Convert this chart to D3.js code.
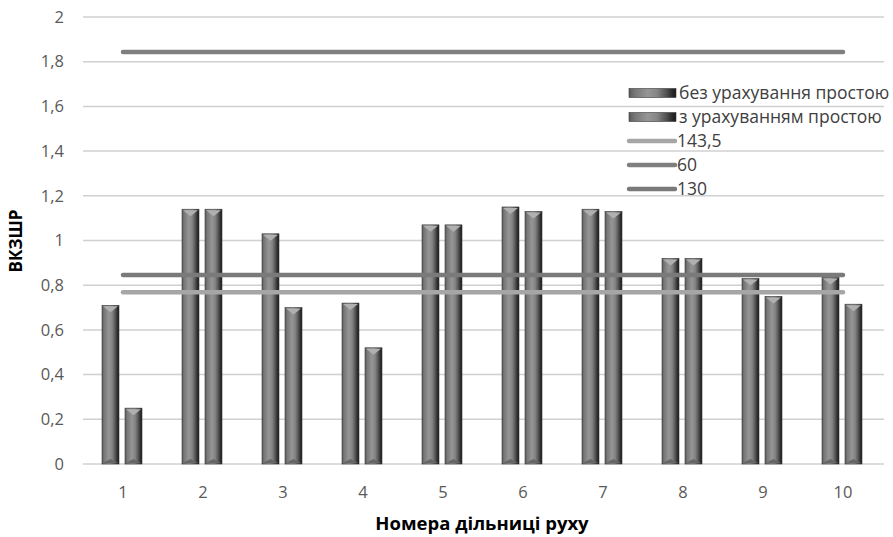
<!DOCTYPE html>
<html><head><meta charset="utf-8">
<script src="https://cdn.jsdelivr.net/npm/d3@7"></script>
<style>body{margin:0;background:#fff}svg{display:block}</style>
</head><body>
<svg id="c" width="893" height="537"></svg>
<script>
const categories = ["1","2","3","4","5","6","7","8","9","10"];
const seriesNames = ["без урахування простою","з урахуванням простою"];
const withoutIdle = [0.71,1.14,1.03,0.72,1.07,1.15,1.14,0.92,0.83,0.835];
const withIdle    = [0.25,1.14,0.70,0.52,1.07,1.13,1.13,0.92,0.75,0.715];
const lineNames = ["143,5","60","130"];
const lineValues = [0.768,1.843,0.846];
const lineColors = ["#a6a6a6","#7f7f7f","#7a7a7a"];
const yTicks = [0,0.2,0.4,0.6,0.8,1,1.2,1.4,1.6,1.8,2];

const svg = d3.select("#c");
const W=893,H=537;
const m={l:83,r:10,t:17,b:73};
const x = d3.scaleBand().domain(categories).range([m.l,W-m.r]).paddingInner(0).paddingOuter(0);
const y = d3.scaleLinear().domain([0,2]).range([H-m.b,m.t]);
const fmt = d=>String(d).replace(".",",");
const font = "'Open Sans', 'Noto Sans', sans-serif";

const defs = svg.append("defs");
const g = defs.append("linearGradient").attr("id","barg").attr("x1","0").attr("x2","1").attr("y1","0").attr("y2","0");
[[0,"#5a5a5a"],[0.12,"#767676"],[0.4,"#969696"],[0.6,"#848484"],[0.8,"#505050"],[0.92,"#2a2a2a"],[1,"#1a1a1a"]]
  .forEach(([o,c])=>g.append("stop").attr("offset",o).attr("stop-color",c));

// gridlines
svg.append("g").selectAll("line").data(yTicks).join("line")
  .attr("x1",m.l).attr("x2",W-m.r+1).attr("y1",d=>y(d)).attr("y2",d=>y(d))
  .attr("stroke","#d0d0d0").attr("stroke-width",1.5);

// y tick labels
svg.append("g").selectAll("text").data(yTicks).join("text")
  .attr("x",64).attr("y",d=>y(d)).attr("dy","0.35em").attr("text-anchor","end")
  .attr("font-family",font).attr("font-size",16.5).attr("fill","#595959").text(fmt);

// x tick labels
svg.append("g").selectAll("text").data(categories).join("text")
  .attr("x",d=>x(d)+x.bandwidth()/2).attr("y",492).attr("dy","0.35em").attr("text-anchor","middle")
  .attr("font-family",font).attr("font-size",16.5).attr("fill","#595959").text(d=>d);

// bars
const bw=17, gap=6;
const series=[withoutIdle,withIdle];
series.forEach((vals,si)=>{
  const gg=svg.append("g");
  const data=categories.map((c,i)=>({c,v:vals[i]}));
  const bx=d=>x(d.c)+x.bandwidth()/2-bw-gap/2+si*(bw+gap)-1;
  gg.selectAll("rect").data(data).join("rect")
    .attr("x",bx).attr("y",d=>y(d.v)).attr("width",bw).attr("height",d=>y(0)-y(d.v))
    .attr("fill","url(#barg)").attr("stroke","#3a3a3a").attr("stroke-width",0.6);
  gg.selectAll("path.top").data(data).join("path").attr("class","top")
    .attr("d",d=>{const X=bx(d),Y=y(d.v);return `M${X+1},${Y+1}L${X+bw-1},${Y+1}L${X+bw/2},${Y+7}Z`;})
    .attr("fill","#b0b0b0");
  gg.selectAll("path.bot").data(data).join("path").attr("class","bot")
    .attr("d",d=>{const X=bx(d),Y=y(0);return `M${X+1},${Y-1}L${X+bw-1},${Y-1}L${X+bw/2},${Y-5}Z`;})
    .attr("fill","#666");
});

// horizontal lines
const c0=x(categories[0])+x.bandwidth()/2, c1=x(categories[categories.length-1])+x.bandwidth()/2;
svg.append("g").selectAll("line").data(lineValues).join("line")
  .attr("x1",c0).attr("x2",c1).attr("y1",d=>y(d)).attr("y2",d=>y(d))
  .attr("stroke",(d,i)=>lineColors[i]).attr("stroke-width",4.5).attr("stroke-linecap","round");

// legend
const lg=svg.append("g");
const rows=[93,117,141,165,189];
seriesNames.forEach((n,i)=>{
  lg.append("rect").attr("x",629).attr("y",rows[i]-4.5).attr("width",47).attr("height",9)
    .attr("fill","url(#barg)").attr("stroke","#3a3a3a").attr("stroke-width",0.6);
  lg.append("text").attr("x",679).attr("y",rows[i]).attr("dy","0.35em")
    .attr("font-family",font).attr("font-size",17.5).attr("fill","#404040").text(n);
});
lineNames.forEach((n,i)=>{
  const r=rows[i+2];
  lg.append("line").attr("x1",629).attr("x2",675).attr("y1",r).attr("y2",r)
    .attr("stroke",lineColors[i]).attr("stroke-width",4.5).attr("stroke-linecap","round");
  lg.append("text").attr("x",677).attr("y",r).attr("dy","0.35em")
    .attr("font-family",font).attr("font-size",17.5).attr("fill","#404040").text(n);
});

// axis titles
svg.append("text").attr("x",482).attr("y",524).attr("dy","0.35em").attr("text-anchor","middle")
  .attr("font-family",font).attr("font-size",18.5).attr("font-weight","bold").attr("fill","#000")
  .text("Номера дільниці руху");
svg.append("text").attr("transform","translate(16,241) rotate(-90)").attr("dy","0.35em").attr("text-anchor","middle")
  .attr("font-family",font).attr("font-size",17).attr("font-weight","bold").attr("fill","#000")
  .text("ВКЗШР");
</script>
</body></html>
